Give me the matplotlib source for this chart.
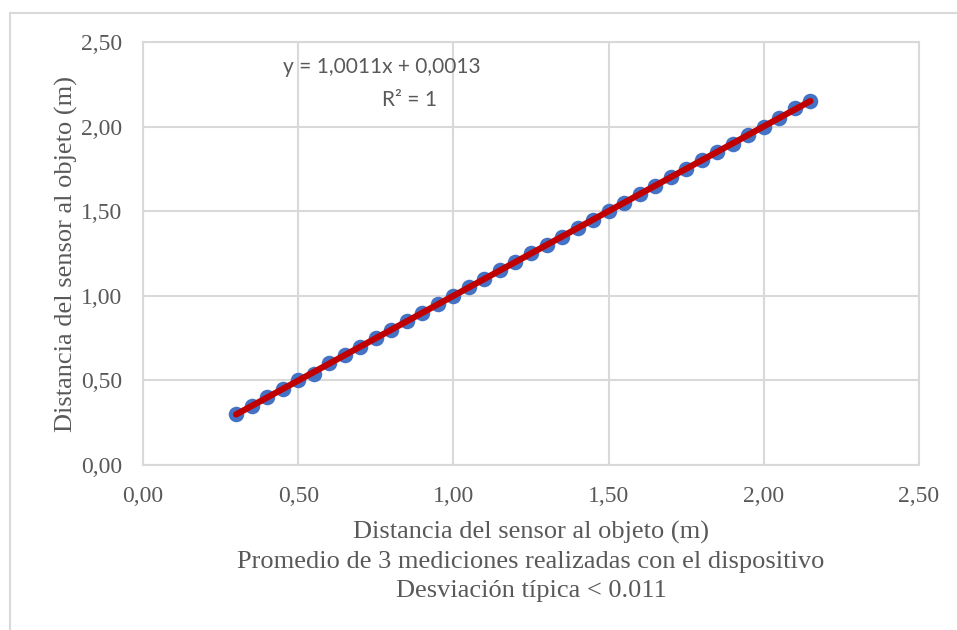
import numpy as np
import matplotlib
matplotlib.use("Agg")
from matplotlib import pyplot as plt
from matplotlib.ticker import FuncFormatter
from matplotlib.patches import Rectangle

# distancia real (m) y promedio medido (m)
dist_real = [0.30, 0.35, 0.40, 0.45, 0.50, 0.55, 0.60, 0.65, 0.70, 0.75,
             0.80, 0.85, 0.90, 0.95, 1.00, 1.05, 1.10, 1.15, 1.20, 1.25,
             1.30, 1.35, 1.40, 1.45, 1.50, 1.55, 1.60, 1.65, 1.70, 1.75,
             1.80, 1.85, 1.90, 1.95, 2.00, 2.05, 2.10, 2.15]
dist_medida = [0.30, 0.35, 0.40, 0.45, 0.50, 0.54, 0.60, 0.65, 0.70, 0.75,
               0.80, 0.85, 0.90, 0.95, 1.00, 1.05, 1.10, 1.15, 1.20, 1.25,
               1.30, 1.35, 1.40, 1.45, 1.50, 1.55, 1.60, 1.65, 1.70, 1.75,
               1.80, 1.85, 1.90, 1.95, 2.00, 2.05, 2.11, 2.15]
ticks = [0.0, 0.5, 1.0, 1.5, 2.0, 2.5]

serif = ["Liberation Serif", "DejaVu Serif"]
grid_col = "#D9D9D9"
txt_col = "#595959"

fig = plt.figure(figsize=(9.57, 6.30), dpi=100)
fig.patches.append(Rectangle((10 / 957, -0.1), 1.2, 0.1 + (630 - 13) / 630,
                             transform=fig.transFigure, fill=False,
                             edgecolor=grid_col, linewidth=1.5))
ax = fig.add_axes([143 / 957, 165 / 630, 776 / 957, 423 / 630])

# linea de tendencia
x = np.array(dist_real)
y = np.array(dist_medida)
m, b = np.polyfit(x, y, 1)
xt = np.array([x.min(), x.max()])

ax.scatter(x, y, s=125, color="#4472C4", zorder=3, linewidths=0)
ax.plot(xt, m * xt + b, color="#C00000", linewidth=4.5, zorder=4,
        solid_capstyle="round")

ax.set_xlim(0, 2.5)
ax.set_ylim(0, 2.5)
ax.set_xticks(ticks)
ax.set_yticks(ticks)
fmt = FuncFormatter(lambda v, p: f"{v:.2f}".replace(".", ","))
ax.xaxis.set_major_formatter(fmt)
ax.yaxis.set_major_formatter(fmt)
ax.tick_params(length=0, labelsize=17, colors=txt_col)
ax.tick_params(axis="x", pad=15)
ax.tick_params(axis="y", pad=15)
for lab in ax.get_xticklabels() + ax.get_yticklabels():
    lab.set_family(serif)
ax.grid(True, color=grid_col, linewidth=1.5)
ax.set_axisbelow(True)
for sp in ax.spines.values():
    sp.set_color(grid_col)
    sp.set_linewidth(1.5)

ax.set_ylabel("Distancia del sensor al objeto (m)", fontsize=19,
              family=serif, color=txt_col, labelpad=2)
ax.set_xlabel("Distancia del sensor al objeto (m)\n"
              "Promedio de 3 mediciones realizadas con el dispositivo\n"
              "Desviación típica < 0.011",
              fontsize=19, family=serif, color=txt_col, labelpad=10)
ax.xaxis.label.set_linespacing(1.42)

ax.text(0.77, 2.355, "y = 1,0011x + 0,0013", fontsize=15, family="Lato",
        color=txt_col, ha="center", va="center")
ax.text(0.86, 2.16, "R² = 1", fontsize=15, family="Lato",
        color=txt_col, ha="center", va="center")

plt.savefig("out.png", dpi=100)
